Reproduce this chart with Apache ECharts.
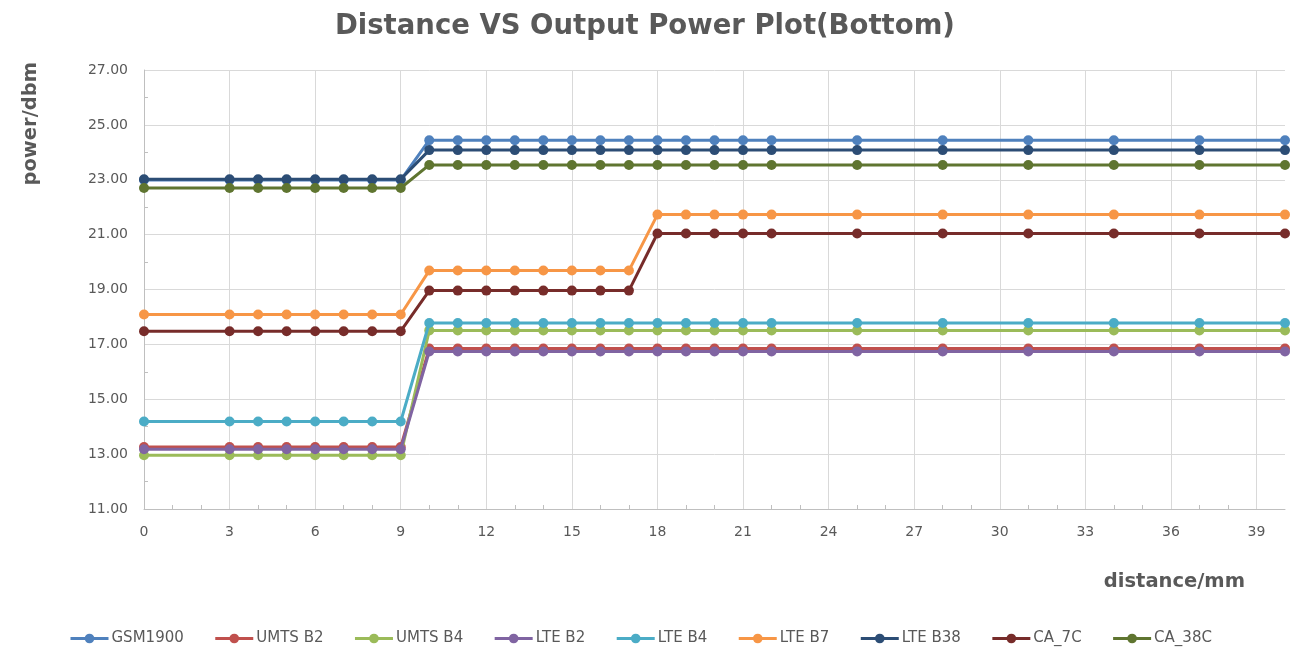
<!DOCTYPE html>
<html><head><meta charset="utf-8">
<script src="https://cdn.jsdelivr.net/npm/echarts@6/dist/echarts.min.js"></script>
<style>html,body{margin:0;padding:0;background:#fff}#c{width:1298px;height:653px}</style>
</head><body><div id="c"></div>
<script>
const distances = [0,3,4,5,6,7,8,9,10,11,12,13,14,15,16,17,18,19,20,21,22,25,28,31,34,37,40];
const seriesNames = ["GSM1900","UMTS B2","UMTS B4","LTE B2","LTE B4","LTE B7","LTE B38","CA_7C","CA_38C"];
const gsm1900 = [22.99,22.99,22.99,22.99,22.99,22.99,22.99,22.99,24.44,24.44,24.44,24.44,24.44,24.44,24.44,24.44,24.44,24.44,24.44,24.44,24.44,24.44,24.44,24.44,24.44,24.44,24.44];
const umtsB2  = [13.26,13.26,13.26,13.26,13.26,13.26,13.26,13.26,16.85,16.85,16.85,16.85,16.85,16.85,16.85,16.85,16.85,16.85,16.85,16.85,16.85,16.85,16.85,16.85,16.85,16.85,16.85];
const umtsB4  = [12.96,12.96,12.96,12.96,12.96,12.96,12.96,12.96,17.51,17.51,17.51,17.51,17.51,17.51,17.51,17.51,17.51,17.51,17.51,17.51,17.51,17.51,17.51,17.51,17.51,17.51,17.51];
const lteB2   = [13.18,13.18,13.18,13.18,13.18,13.18,13.18,13.18,16.74,16.74,16.74,16.74,16.74,16.74,16.74,16.74,16.74,16.74,16.74,16.74,16.74,16.74,16.74,16.74,16.74,16.74,16.74];
const lteB4   = [14.19,14.19,14.19,14.19,14.19,14.19,14.19,14.19,17.78,17.78,17.78,17.78,17.78,17.78,17.78,17.78,17.78,17.78,17.78,17.78,17.78,17.78,17.78,17.78,17.78,17.78,17.78];
const lteB7   = [18.09,18.09,18.09,18.09,18.09,18.09,18.09,18.09,19.69,19.69,19.69,19.69,19.69,19.69,19.69,19.69,21.73,21.73,21.73,21.73,21.73,21.73,21.73,21.73,21.73,21.73,21.73];
const lteB38  = [23.02,23.02,23.02,23.02,23.02,23.02,23.02,23.02,24.08,24.08,24.08,24.08,24.08,24.08,24.08,24.08,24.08,24.08,24.08,24.08,24.08,24.08,24.08,24.08,24.08,24.08,24.08];
const ca7C    = [17.48,17.48,17.48,17.48,17.48,17.48,17.48,17.48,18.96,18.96,18.96,18.96,18.96,18.96,18.96,18.96,21.04,21.04,21.04,21.04,21.04,21.04,21.04,21.04,21.04,21.04,21.04];
const ca38C   = [22.70,22.70,22.70,22.70,22.70,22.70,22.70,22.70,23.54,23.54,23.54,23.54,23.54,23.54,23.54,23.54,23.54,23.54,23.54,23.54,23.54,23.54,23.54,23.54,23.54,23.54,23.54];
const allValues = [gsm1900, umtsB2, umtsB4, lteB2, lteB4, lteB7, lteB38, ca7C, ca38C];
const colors = ["#4F81BD","#C0504D","#9BBB59","#8064A2","#4BACC6","#F79646","#2C4D75","#772C2A","#5F7530"];

const font = "DejaVu Sans";
const chart = echarts.init(document.getElementById('c'), null, {renderer:'canvas'});
chart.setOption({
  animation: false,
  color: colors,
  textStyle: {fontFamily: font},
  title: {
    text: 'Distance VS Output Power Plot(Bottom)',
    left: 330, top: 8,
    textStyle: {fontFamily: font, fontSize: 27.5, fontWeight: 'bold', color: '#595959'}
  },
  grid: {left: 144, right: 13, top: 70, bottom: 144, containLabel: false},
  legend: {
    bottom: 2, left: 64,
    itemWidth: 38, itemHeight: 12, itemGap: 30,
    lineStyle: {width: 3},
    textStyle: {fontFamily: font, fontSize: 15, color: '#595959', padding: [0, 0, 0, -2]},
    data: seriesNames
  },
  xAxis: {
    type: 'value', min: 0, max: 40, interval: 3,
    name: 'distance/mm', nameLocation: 'end',
    nameGap: 0,
    nameTextStyle: {fontFamily: font, fontSize: 19.5, fontWeight: 'bold', color: '#595959',
      align: 'right', verticalAlign: 'top', padding: [63, 40, 0, 0]},
    axisLine: {lineStyle: {color: '#BFBFBF', width: 1}},
    axisTick: {show: false, inside: true},
    minorTick: {show: true, splitNumber: 3, length: 4, lineStyle: {color: '#BFBFBF'}},
    axisLabel: {color: '#595959', fontSize: 14, fontFamily: font, margin: 16, showMaxLabel: false},
    splitLine: {show: true, showMaxLine: false, lineStyle: {color: '#D9D9D9', width: 1}}
  },
  yAxis: {
    type: 'value', min: 11, max: 27, interval: 2,
    name: 'power/dbm', nameLocation: 'end', nameRotate: 90,
    nameGap: 8,
    nameTextStyle: {fontFamily: font, fontSize: 19.5, fontWeight: 'bold', color: '#595959',
      align: 'right', verticalAlign: 'bottom', padding: [0, 0, 103, 0]},
    axisLine: {show: true, lineStyle: {color: '#BFBFBF', width: 1}},
    axisTick: {show: false, inside: true},
    minorTick: {show: true, splitNumber: 2, length: 4, lineStyle: {color: '#BFBFBF'}},
    axisLabel: {color: '#595959', fontSize: 14, fontFamily: font, margin: 16,
      formatter: v => v.toFixed(2)},
    splitLine: {show: true, lineStyle: {color: '#D9D9D9', width: 1}}
  },
  series: seriesNames.map((name, i) => ({
    name: name, type: 'line',
    data: distances.map((d, j) => [d, allValues[i][j]]),
    symbol: 'circle', symbolSize: 10,
    lineStyle: {width: 3, color: colors[i]},
    itemStyle: {color: colors[i]},
    z: 2 + i
  }))
});
</script></body></html>
